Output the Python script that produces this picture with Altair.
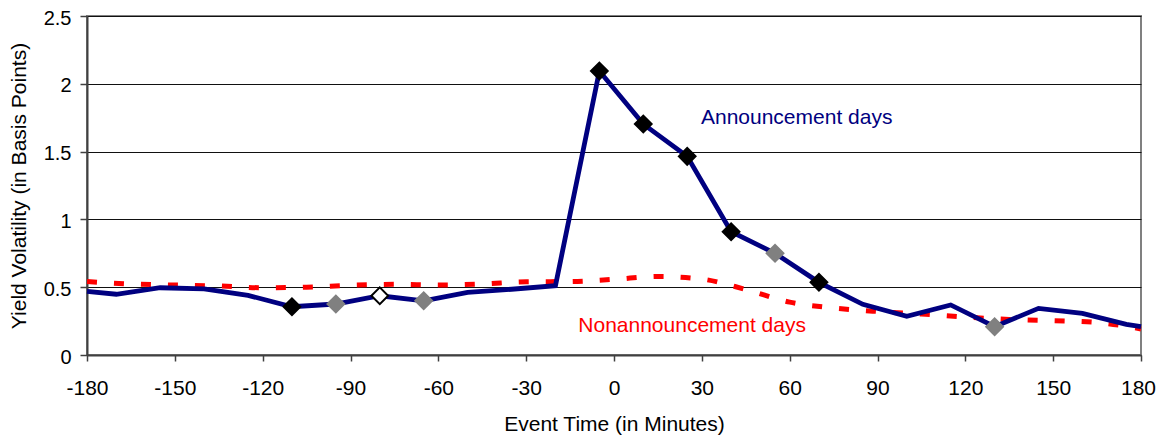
import altair as alt
import pandas as pd

# Announcement days (solid navy line)
ann_minutes = [-180, -170, -155, -140, -125, -110, -95, -80, -65, -50, -35, -20,
               -5, 10, 25, 40, 55, 70, 85, 100, 115, 130, 145, 160, 175, 180]
ann_values = [0.47, 0.448, 0.496, 0.487, 0.44, 0.356, 0.376, 0.437, 0.40, 0.462, 0.485, 0.511,
              2.094, 1.703, 1.465, 0.909, 0.75, 0.536, 0.374, 0.286, 0.369, 0.209, 0.344, 0.307, 0.226, 0.209]

# Highlighted points on the announcement line
marker_minutes = [-110, -95, -80, -65, -5, 10, 25, 40, 55, 70, 130]
marker_kind = ["black", "gray", "open", "gray", "black", "black", "black", "black", "gray", "black", "gray"]

# Nonannouncement days (dashed red line)
non_minutes = [-180, -165, -150, -135, -120, -105, -90, -75, -60, -45, -30, -15,
               0, 15, 30, 45, 60, 75, 90, 105, 120, 135, 150, 165, 180]
non_values = [0.542, 0.524, 0.516, 0.509, 0.496, 0.50, 0.514, 0.521, 0.516, 0.524, 0.54, 0.542,
              0.558, 0.579, 0.56, 0.483, 0.39, 0.347, 0.321, 0.302, 0.28, 0.262, 0.253, 0.24, 0.192]

# Annotations
label_text = ["Announcement days", "Nonannouncement days"]
label_minute = [29.7, -12.2]
label_value = [1.70, 0.172]
label_color = ["#000080", "#FF0000"]

x_ticks = [-180, -150, -120, -90, -60, -30, 0, 30, 60, 90, 120, 150, 180]
y_ticks = [0, 0.5, 1, 1.5, 2, 2.5]

FONT = "Liberation Sans"

ann_df = pd.DataFrame({"minute": ann_minutes, "value": ann_values})
lookup = dict(zip(ann_minutes, ann_values))
mark_df = pd.DataFrame({"minute": marker_minutes,
                        "value": [lookup[m] for m in marker_minutes],
                        "kind": marker_kind})
non_df = pd.DataFrame({"minute": non_minutes, "value": non_values})
lab_df = pd.DataFrame({"text": label_text, "minute": label_minute,
                       "value": label_value, "series": label_text})

x_enc = alt.X("minute:Q",
              scale=alt.Scale(domain=[-180, 180], nice=False, zero=False),
              axis=alt.Axis(values=x_ticks, title="Event Time (in Minutes)",
                            labelExpr="'' + datum.value",
                            grid=False, tickSize=6, labelPadding=16,
                            labelFontSize=21,
                            labelOffset={"condition": {"test": "datum.value == 180", "value": -3}, "value": 0},
                            titleBaseline="alphabetic", titleY=75,
                            labelFlush=False, labelOverlap=False))
y_enc = alt.Y("value:Q",
              scale=alt.Scale(domain=[0, 2.5], nice=False),
              axis=alt.Axis(values=y_ticks, title="Yield Volatility (in Basis Points)",
                            format="~g", labelFontSize=20, labelOffset=2,
                            grid=True, gridColor="#111111", gridWidth=1,
                            tickSize=7, labelPadding=9,
                            titleX=-68, titleY=169.5, titleBaseline="middle",
                            titleAlign="center", titleAngle=270,
                            labelFlush=False, labelOverlap=False))

red = alt.Chart(non_df).mark_line(
    color="#FF0000", strokeWidth=5, strokeDash=[10, 17], interpolate="monotone"
).encode(x=x_enc, y=y_enc)

blue = alt.Chart(ann_df).mark_line(
    color="#000080", strokeWidth=4.8
).encode(x="minute:Q", y="value:Q")

kinds = ["black", "gray", "open"]
markers = alt.Chart(mark_df).mark_point(
    shape="diamond", size=280, filled=True, opacity=1, strokeWidth=2
).encode(
    x="minute:Q", y="value:Q",
    fill=alt.Fill("kind:N", scale=alt.Scale(domain=kinds, range=["#000000", "#808080", "#FFFFFF"]), legend=None),
    stroke=alt.Stroke("kind:N", scale=alt.Scale(domain=kinds, range=["#000000", "#808080", "#000000"]), legend=None),
)

labels = alt.Chart(lab_df).mark_text(
    align="left", baseline="alphabetic", font=FONT, fontSize=21
).encode(
    x="minute:Q", y="value:Q", text="text:N",
    color=alt.Color("series:N", scale=alt.Scale(domain=label_text, range=label_color), legend=None),
)

chart = alt.layer(red, blue, markers, labels).resolve_scale(
    fill="independent", stroke="independent", color="independent"
).properties(
    width=1054, height=339,
    padding={"left": 79, "top": 8, "right": 15, "bottom": 82},
    autosize=alt.AutoSizeParams(type="none"),
    background="white",
).configure_view(
    stroke="#808080", strokeWidth=2
).configure_axis(
    labelFont=FONT, titleFont=FONT, titleFontSize=21,
    labelColor="#000000", titleColor="#000000", titleFontWeight="normal",
    domainColor="#404040", domainWidth=2, tickColor="#404040", tickWidth=1.5,
)

chart.save("out.html", embed_options={"renderer": "svg", "actions": False})
